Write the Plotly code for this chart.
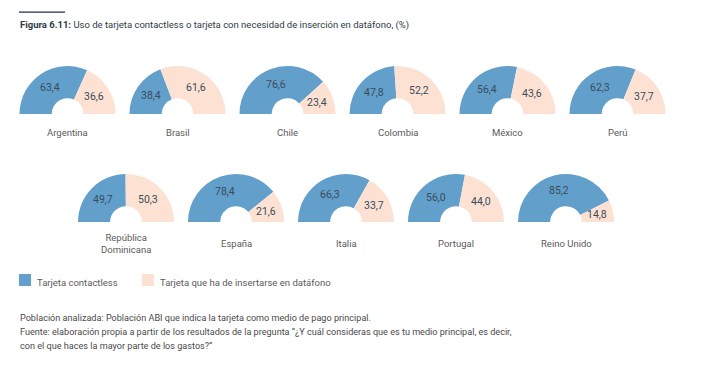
import math
import plotly.graph_objects as go

# ---- data ----
countries = ["Argentina", "Brasil", "Chile", "Colombia", "México", "Perú",
             "República<br>Dominicana", "España", "Italia", "Portugal", "Reino Unido"]
contactless = [63.4, 38.4, 76.6, 47.8, 56.4, 62.3, 49.7, 78.4, 66.3, 56.0, 85.2]
insercion = [36.6, 61.6, 23.4, 52.2, 43.6, 37.7, 50.3, 21.6, 33.7, 44.0, 14.8]
series_names = ["Tarjeta contactless", "Tarjeta que ha de insertarse en datáfono"]
title_bold = "Figura 6.11:"
title_rest = " Uso de tarjeta contactless o tarjeta con necesidad de inserción en datáfono, (%)"
footer_lines = [
    "Población analizada: Población ABI que indica la tarjeta como medio de pago principal.",
    "Fuente: elaboración propia a partir de los resultados de la pregunta \u201c¿Y cuál consideras que es tu medio principal, es decir,",
    "con el que haces la mayor parte de los gastos?\u201d",
]

# ---- style ----
W, H = 709, 365
BLUE = "#62a0cb"
PEACH = "#fde2d4"
FONT = "Roboto, sans-serif"
R = 48
HOLE = 0.33

def fmt(v):
    return f"{v:.1f}".replace(".", ",")

def px(x, y):
    return x / W, 1 - y / H

fig = go.Figure()

positions = []
for i in range(6):
    positions.append((67.5 + 110 * i, 114, 132))
for i in range(5):
    positions.append((126 + 110 * i, 222, 243))

annotations = []
for k, name in enumerate(countries):
    cx, cy, ly = positions[k]
    a, b = contactless[k], insercion[k]
    total = a + b
    fig.add_trace(go.Pie(
        values=[a, b, total],
        labels=[series_names[0], series_names[1], "hidden"],
        textinfo="none",
        marker=dict(colors=[BLUE, PEACH, "rgba(0,0,0,0)"], line=dict(width=0)),
        hole=HOLE,
        sort=False,
        direction="clockwise",
        rotation=270,
        showlegend=False,
        hoverinfo="skip",
        domain=dict(x=[(cx - R) / W, (cx + R) / W],
                    y=[(H - cy - R) / H, (H - cy + R) / H]),
    ))
    # value labels at the middle of each slice
    rm = R * (1 + HOLE) / 2
    start = 180.0
    for v in (a, b):
        span = 180.0 * v / total
        mid = math.radians(start - span / 2)
        start -= span
        x, y = px(cx + rm * math.cos(mid), cy - rm * math.sin(mid))
        annotations.append(dict(
            x=x, y=y, xref="paper", yref="paper", text=fmt(v), showarrow=False,
            xanchor="center", yanchor="middle",
            font=dict(family=FONT, size=10.5, color="#3a4b5b")))
    x, y = px(cx, ly)
    annotations.append(dict(
        x=x, y=y, xref="paper", yref="paper",
        text=name, showarrow=False, xanchor="center", yanchor="middle",
        font=dict(family=FONT, size=9.5, color="#5b5b5b")))

# legend (manual)
shapes = []
legend_x = [19, 142]
for lx, name, col in zip(legend_x, series_names, [BLUE, PEACH]):
    shapes.append(dict(type="rect", xref="paper", yref="paper",
                       x0=lx / W, x1=(lx + 12) / W, y0=1 - 286 / H, y1=1 - 274 / H,
                       fillcolor=col, line=dict(width=0)))
    x, y = px(lx + 16, 282)
    annotations.append(dict(
        x=x, y=y, xref="paper", yref="paper", text=name, showarrow=False,
        xanchor="left", yanchor="middle",
        font=dict(family=FONT, size=9.5, color="#5b5b5b")))

# title
x, y = px(18, 25)
annotations.append(dict(
    x=x, y=y, xref="paper", yref="paper",
    text=f"<b>{title_bold}</b>{title_rest}", showarrow=False,
    xanchor="left", yanchor="middle",
    font=dict(family=FONT, size=9.5, color="#2e3b46")))
shapes.append(dict(type="rect", xref="paper", yref="paper",
                   x0=19 / W, x1=65 / W, y0=1 - 12.7 / H, y1=1 - 11.5 / H,
                   fillcolor="#1d3547", line=dict(width=0)))

# footer
for j, line in enumerate(footer_lines):
    x, y = px(18, 318 + 14 * j)
    annotations.append(dict(
        x=x, y=y, xref="paper", yref="paper",
        text=line, showarrow=False, xanchor="left", yanchor="middle",
        font=dict(family=FONT, size=9.1, color="#4a4a4a")))

fig.update_layout(
    width=W, height=H,
    margin=dict(l=0, r=0, t=0, b=0),
    paper_bgcolor="white", plot_bgcolor="white",
    showlegend=False,
    annotations=annotations,
    shapes=shapes,
)

fig.write_html("out.html", config={"displayModeBar": False},
               post_script="document.body.style.margin='0px';")
